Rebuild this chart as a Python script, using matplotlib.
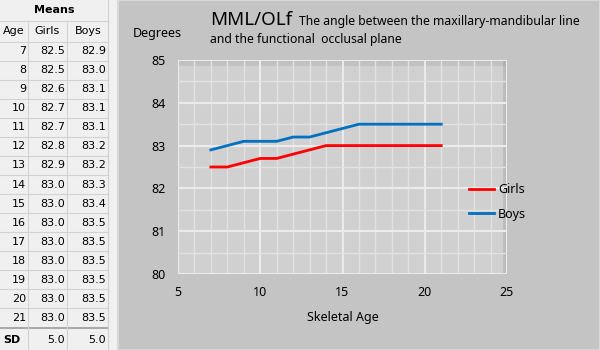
import matplotlib.pyplot as plt
import numpy as np
from matplotlib.patches import Rectangle

# Mean MML/OLf angle by skeletal age
ages = [7, 8, 9, 10, 11, 12, 13, 14, 15, 16, 17, 18, 19, 20, 21]
girls = [82.5, 82.5, 82.6, 82.7, 82.7, 82.8, 82.9, 83.0, 83.0, 83.0, 83.0, 83.0, 83.0, 83.0, 83.0]
boys = [82.9, 83.0, 83.1, 83.1, 83.1, 83.2, 83.2, 83.3, 83.4, 83.5, 83.5, 83.5, 83.5, 83.5, 83.5]
sd_girls = 5.0
sd_boys = 5.0

x_ticks = [5, 10, 15, 20, 25]
y_ticks = [80, 81, 82, 83, 84, 85]

W, H = 600, 350
fig = plt.figure(figsize=(6, 3.5), dpi=100)
fig.patch.set_facecolor('#f0f0f0')


def fx(x):
    return x / W


def fy(y):
    return 1 - y / H


tfont = 'DejaVu Sans'
cfont = 'Noto Sans'

# left table
line_c = '#d2d2d2'
col_edges = [0, 28, 67, 108]
row_top = 41.5
row_h = 19.07

def hline(y, x0=0, x1=108, c=line_c, lw=0.8):
    fig.add_artist(plt.Line2D([fx(x0), fx(x1)], [fy(y), fy(y)], transform=fig.transFigure,
                              color=c, lw=lw))


def vline(x, y0, y1, c=line_c, lw=0.8):
    fig.add_artist(plt.Line2D([fx(x), fx(x)], [fy(y0), fy(y1)], transform=fig.transFigure,
                              color=c, lw=lw))


hline(20.5)
for i in range(len(ages) + 1):
    hline(row_top + i * row_h)
hline(row_top + len(ages) * row_h, c='#a8a8a8', lw=1.4)
for x in col_edges[1:]:
    vline(x, 20.5, 350)
vline(108, 0, 350)

fig.text(fx(54), fy(10), 'Means', ha='center', va='center', fontsize=8,
         fontweight='bold', family=tfont)
fig.text(fx(14), fy(31), 'Age', ha='center', va='center', fontsize=8, family=tfont)
fig.text(fx(47), fy(31), 'Girls', ha='center', va='center', fontsize=8, family=tfont)
fig.text(fx(88), fy(31), 'Boys', ha='center', va='center', fontsize=8, family=tfont)
for i, a in enumerate(ages):
    yc = row_top + (i + 0.5) * row_h
    fig.text(fx(26), fy(yc), str(a), ha='right', va='center', fontsize=8, family=tfont)
    fig.text(fx(65), fy(yc), f'{girls[i]:.1f}', ha='right', va='center', fontsize=8, family=tfont)
    fig.text(fx(106), fy(yc), f'{boys[i]:.1f}', ha='right', va='center', fontsize=8, family=tfont)
sd_y = 340
fig.text(fx(3), fy(sd_y), 'SD', ha='left', va='center', fontsize=8, fontweight='bold', family=tfont)
fig.text(fx(65), fy(sd_y), f'{sd_girls:.1f}', ha='right', va='center', fontsize=8, family=tfont)
fig.text(fx(106), fy(sd_y), f'{sd_boys:.1f}', ha='right', va='center', fontsize=8, family=tfont)

# chart panel
fig.patches.append(Rectangle((fx(118), 0), fx(482), 1, transform=fig.transFigure,
                             facecolor='#c4c4c4', edgecolor='#d8d8d8', lw=1.5, zorder=0))

ax = fig.add_axes([fx(178), fy(274), fx(507 - 178), (274 - 60) / H])
ax.set_zorder(2)
ax.set_facecolor('#d0d0d0')

# soft shading along the top and right edges of the plot area
grad = np.linspace(0, 1, 50).reshape(-1, 1)
ax.imshow(grad, extent=[5, 25, 84.85, 85], aspect='auto', cmap='Greys_r',
          vmin=-2.5, vmax=5, alpha=0.18, zorder=0.5)
ax.imshow(grad.T[:, ::-1], extent=[24.78, 25, 80, 85], aspect='auto', cmap='Greys_r',
          vmin=-2.5, vmax=5, alpha=0.25, zorder=0.5)
ax.set_xlim(5, 25)
ax.set_ylim(80, 85)

for x in np.arange(5, 26, 1):
    major = x % 5 == 0
    ax.axvline(x, color='#ebebeb' if major else '#e2e2e2', lw=1.5 if major else 1.0, zorder=1)
for y in np.arange(80, 85.01, 0.5):
    major = y % 1 == 0
    ax.axhline(y, color='#ebebeb' if major else '#e2e2e2', lw=1.5 if major else 1.0, zorder=1)

ax.plot(ages, girls, color='#ff0000', lw=2, label='Girls', zorder=3)
ax.plot(ages, boys, color='#0070c0', lw=2, label='Boys', zorder=3)

for s in ax.spines.values():
    s.set_visible(False)
ax.tick_params(length=0, labelsize=9, colors='#000000', pad=9)
ax.set_xticks(x_ticks)
ax.set_yticks(y_ticks)
for lab in ax.get_xticklabels() + ax.get_yticklabels():
    lab.set_family(cfont)
ax.set_xlabel('Skeletal Age', fontsize=9, family=cfont, labelpad=8)

fig.text(fx(133), fy(33), 'Degrees', ha='left', va='center', fontsize=9, family=cfont)
fig.text(fx(210), fy(20), 'MML/OLf', ha='left', va='center', fontsize=13.5, family=cfont)
fig.text(fx(299), fy(21), 'The angle between the maxillary-mandibular line',
         ha='left', va='center', fontsize=8.8, family=cfont)
fig.text(fx(210), fy(40), 'and the functional  occlusal plane',
         ha='left', va='center', fontsize=8.8, family=cfont)

ax.legend(loc='center left', bbox_to_anchor=(fx(458), fy(202)), bbox_transform=fig.transFigure,
          frameon=False, prop={'family': cfont, 'size': 9}, handlelength=2.0,
          handletextpad=0.3, labelspacing=0.9)

fig.savefig('out.png', dpi=100, facecolor=fig.get_facecolor())
